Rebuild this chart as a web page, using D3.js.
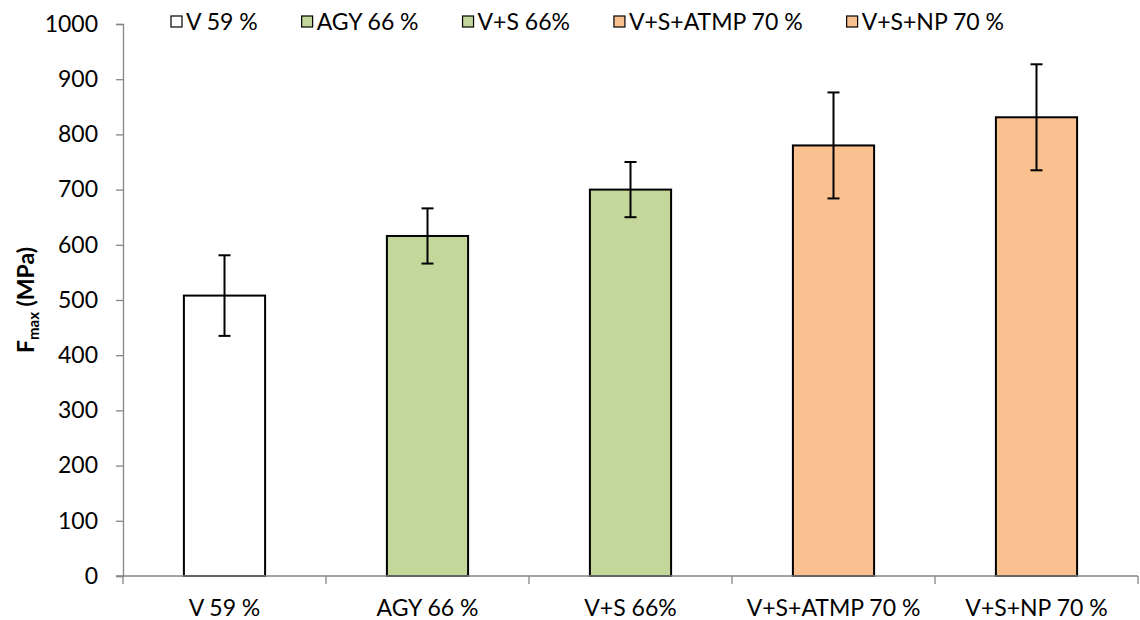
<!DOCTYPE html>
<html>
<head>
<meta charset="utf-8">
<script src="https://cdn.jsdelivr.net/npm/d3@7"></script>
<style>
  html, body { margin: 0; padding: 0; background: #fff; }
  svg { display: block; font-family: Lato, "Open Sans", sans-serif; }
</style>
</head>
<body>
<svg id="chart" width="1140" height="620"></svg>
<script>
// Maximum tensile strength per fibre system
const categories = ["V 59 %", "AGY 66 %", "V+S 66%", "V+S+ATMP 70 %", "V+S+NP 70 %"];
const fmaxValues = [508, 616, 700, 780, 831];
const fmaxErrors = [73, 50, 50, 96, 96];
const barColors = ["#FFFFFF", "#C4D79B", "#C4D79B", "#FAC090", "#FAC090"];
const yTicks = [0, 100, 200, 300, 400, 500, 600, 700, 800, 900, 1000];

const svg = d3.select("#chart");
const margin = { left: 123, right: 2, top: 24, bottom: 44 };
const W = 1140, H = 620;
const axisColor = "#868686";
const fontSize = "23px";

const x = d3.scaleBand().domain(categories).range([margin.left, W - margin.right]).paddingInner(0.6).paddingOuter(0.3);
const xBands = d3.scaleBand().domain(categories).range([margin.left, W - margin.right]);
const y = d3.scaleLinear().domain([0, 1000]).range([H - margin.bottom, margin.top]);

// Y axis
const yAxis = svg.append("g").attr("transform", `translate(${margin.left},0)`)
  .call(d3.axisLeft(y).tickValues(yTicks).tickFormat(d3.format("d")).tickSize(7).tickPadding(18));
yAxis.select(".domain").attr("stroke", axisColor).attr("stroke-width", 1.3);
yAxis.selectAll(".tick line").attr("stroke", axisColor).attr("stroke-width", 1.3);
yAxis.selectAll(".tick text").attr("fill", "#000").style("font-size", fontSize).style("font-family", "Lato, sans-serif");

// Bars
svg.append("g").selectAll("rect").data(categories).join("rect")
  .attr("x", d => x(d))
  .attr("width", x.bandwidth())
  .attr("y", (d, i) => y(fmaxValues[i]))
  .attr("height", (d, i) => y(0) - y(fmaxValues[i]))
  .attr("fill", (d, i) => barColors[i])
  .attr("stroke", "#000")
  .attr("stroke-width", 2);

// X axis with boundary ticks between categories
const xAxisG = svg.append("g");
xAxisG.append("line")
  .attr("x1", margin.left - 7).attr("x2", W - margin.right)
  .attr("y1", y(0)).attr("y2", y(0))
  .attr("stroke", axisColor).attr("stroke-width", 1.3);
const bounds = categories.map(c => xBands(c)).concat([xBands.range()[1]]);
xAxisG.selectAll("line.bt").data(bounds).join("line")
  .attr("class", "bt")
  .attr("x1", d => d).attr("x2", d => d)
  .attr("y1", y(0)).attr("y2", y(0) + 8)
  .attr("stroke", axisColor).attr("stroke-width", 1.3);
xAxisG.selectAll("text").data(categories).join("text")
  .attr("x", d => xBands(d) + xBands.bandwidth() / 2)
  .attr("y", y(0) + 40)
  .attr("text-anchor", "middle")
  .style("font-size", fontSize)
  .text(d => d);

// Error bars
const err = svg.append("g").attr("stroke", "#000").attr("stroke-width", 2);
categories.forEach((c, i) => {
  const cx = x(c) + x.bandwidth() / 2;
  const hi = y(fmaxValues[i] + fmaxErrors[i]);
  const lo = y(fmaxValues[i] - fmaxErrors[i]);
  err.append("line").attr("x1", cx).attr("x2", cx).attr("y1", hi).attr("y2", lo);
  err.append("line").attr("x1", cx - 6).attr("x2", cx + 6).attr("y1", hi).attr("y2", hi);
  err.append("line").attr("x1", cx - 6).attr("x2", cx + 6).attr("y1", lo).attr("y2", lo);
});

// Y axis title
const yTitle = svg.append("text")
  .attr("transform", `translate(34,${(margin.top + H - margin.bottom) / 2}) rotate(-90)`)
  .attr("text-anchor", "middle")
  .style("font-size", "23px")
  .style("font-weight", "bold");
yTitle.append("tspan").text("F");
yTitle.append("tspan").attr("dy", 5).style("font-size", "15px").text("max");
yTitle.append("tspan").attr("dy", -5).text(" (MPa)");

// Legend
const legend = svg.append("g");
let lx = 171;
categories.forEach((c, i) => {
  const g = legend.append("g").attr("transform", `translate(${lx},0)`);
  g.append("rect").attr("x", 0).attr("y", 16).attr("width", 11).attr("height", 11)
    .attr("fill", barColors[i]).attr("stroke", "#000").attr("stroke-width", 1.2);
  const t = g.append("text").attr("x", 15).attr("y", 30).style("font-size", fontSize).text(c);
  lx += 15 + t.node().getComputedTextLength() + 44;
});
</script>
</body>
</html>
